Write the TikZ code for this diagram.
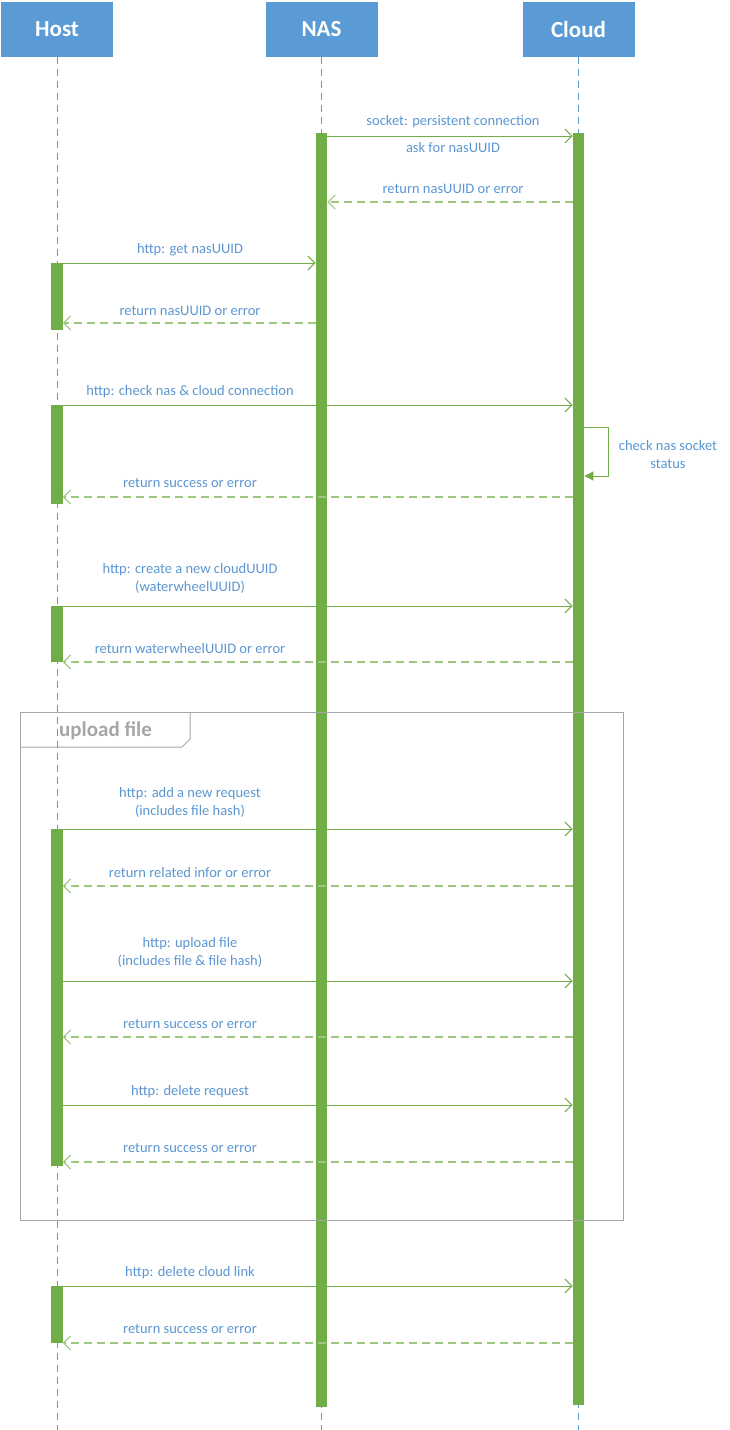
\documentclass[tikz,border=0pt]{standalone}
\usepackage{fontspec}
\setmainfont{Carlito}
\usepackage{xcolor}
\usepackage{tikz}
\usetikzlibrary{arrows.meta, positioning, calc}
\definecolor{boxblue}{HTML}{5B9BD5}
\definecolor{actgreen}{HTML}{70AD47}
\definecolor{retgreen}{HTML}{9CC77E}
\definecolor{msgblue}{HTML}{5B96D2}
\definecolor{framegray}{HTML}{A6A6A6}

\begin{document}
\begin{tikzpicture}[
  x=1pt, y=-1pt,
  head/.style={rectangle, fill=boxblue, text=white, minimum width=112pt,
               minimum height=55pt, inner sep=0pt,
               font=\fontsize{23}{26}\selectfont\bfseries},
  lifeline/.style={draw=boxblue, line width=0.6pt, dash pattern=on 7pt off 5pt},
  bar/.style={rectangle, fill=actgreen, minimum width=11.5pt, inner sep=0pt},
  call/.style={draw=actgreen, line width=1pt,
               -{Straight Barb[length=7pt, width=14pt, line width=1pt]}},
  ret/.style={draw=retgreen, line width=1.3pt, dash pattern=on 8pt off 5pt,
              -{Straight Barb[length=7pt, width=14pt, line width=1pt]}},
  self/.style={draw=actgreen, line width=1pt, -{Triangle[length=9pt, width=9pt]}},
  lbl/.style={text=msgblue, align=center, inner sep=0pt,
              font=\fontsize{14.5}{18}\selectfont},
  frame/.style={draw=framegray, line width=1pt},
  tag/.style={text=framegray, inner sep=0pt, font=\fontsize{21}{24}\selectfont\bfseries}
]
  \useasboundingbox (0,0) rectangle (729,1430);

  \node[head] (host) at (57,29.5) {Host};
  \node[head] (nas) at (321.5,29.5) {NAS};
  \node[head] (cloud) at (578.5,29.5) {Cloud};

  \coordinate (bottom) at (0,1430);
  \draw[lifeline] (host.south) -- (host.south |- bottom);
  \draw[lifeline] (nas.south) -- (nas.south |- bottom);
  \draw[lifeline] (cloud.south) -- (cloud.south |- bottom);

  \node[bar, minimum height=1274pt] (nasbar) at (321.5,770) {};
  \node[bar, minimum height=1272pt] (cloudbar) at (578.5,769) {};
  \node[bar, minimum height=67pt] (hb1) at (57,296.5) {};
  \node[bar, minimum height=99pt] (hb2) at (57,454.5) {};
  \node[bar, minimum height=56pt] (hb3) at (57,634) {};
  \node[bar, minimum height=337pt] (hb4) at (57,997.5) {};
  \node[bar, minimum height=57pt] (hb5) at (57,1314.5) {};

  % nas <-> cloud
  \coordinate (m1) at (0,136);
  \draw[call] (nasbar.east |- m1) -- (cloudbar.west |- m1);
  \node[lbl] (t1) at (453,122) {socket: persistent connection};
  \node[lbl] (t1b) at (453,148) {ask for nasUUID};
  \coordinate (m2) at (0,202);
  \draw[ret] (cloudbar.west |- m2) -- (nasbar.east |- m2);
  \node[lbl] (t2) at (453,189) {return nasUUID or error};

  % host <-> nas
  \coordinate (m3) at (0,263);
  \draw[call] (hb1.east |- m3) -- (nasbar.west |- m3);
  \node[lbl] (t3) at (190,250) {http: get nasUUID};
  \coordinate (m4) at (0,323);
  \draw[ret] (nasbar.west |- m4) -- (hb1.east |- m4);
  \node[lbl] (t4) at (190,311) {return nasUUID or error};

  % host <-> cloud
  \coordinate (m5) at (0,405);
  \draw[call] (hb2.east |- m5) -- (cloudbar.west |- m5);
  \node[lbl] (t5) at (190,392) {http: check nas \& cloud connection};
  \coordinate (s1) at (608,427);
  \coordinate (s2) at (608,476);
  \draw[self] (cloudbar.east |- s1) -- (s1) -- (s2) -- (cloudbar.east |- s2);
  \node[lbl] (t6) at (668,455) {check nas socket\\status};
  \coordinate (m7) at (0,497);
  \draw[ret] (cloudbar.west |- m7) -- (hb2.east |- m7);
  \node[lbl] (t7) at (190,483) {return success or error};

  \coordinate (m8) at (0,606);
  \draw[call] (hb3.east |- m8) -- (cloudbar.west |- m8);
  \node[lbl] (t8) at (190,578.5) {http: create a new cloudUUID\\(waterwheelUUID)};
  \coordinate (m9) at (0,662);
  \draw[ret] (cloudbar.west |- m9) -- (hb3.east |- m9);
  \node[lbl] (t9) at (190,649) {return waterwheelUUID or error};

  % upload file frame
  \draw[frame] (20,712) rectangle (623,1220);
  \draw[frame] (20,747) -- (182,747) -- (190,739) -- (190,712);
  \node[tag] (tag) at (105.5,730.5) {upload file};

  \coordinate (m10) at (0,829);
  \draw[call] (hb4.east |- m10) -- (cloudbar.west |- m10);
  \node[lbl] (t10) at (190,802) {http: add a new request\\(includes file hash)};
  \coordinate (m11) at (0,886);
  \draw[ret] (cloudbar.west |- m11) -- (hb4.east |- m11);
  \node[lbl] (t11) at (190,873) {return related infor or error};
  \coordinate (m12) at (0,981);
  \draw[call] (hb4.east |- m12) -- (cloudbar.west |- m12);
  \node[lbl] (t12) at (190,952.5) {http: upload file\\(includes file \& file hash)};
  \coordinate (m13) at (0,1037);
  \draw[ret] (cloudbar.west |- m13) -- (hb4.east |- m13);
  \node[lbl] (t13) at (190,1024) {return success or error};
  \coordinate (m14) at (0,1105);
  \draw[call] (hb4.east |- m14) -- (cloudbar.west |- m14);
  \node[lbl] (t14) at (190,1092) {http: delete request};
  \coordinate (m15) at (0,1162);
  \draw[ret] (cloudbar.west |- m15) -- (hb4.east |- m15);
  \node[lbl] (t15) at (190,1148) {return success or error};

  \coordinate (m16) at (0,1286);
  \draw[call] (hb5.east |- m16) -- (cloudbar.west |- m16);
  \node[lbl] (t16) at (190,1273) {http: delete cloud link};
  \coordinate (m17) at (0,1343);
  \draw[ret] (cloudbar.west |- m17) -- (hb5.east |- m17);
  \node[lbl] (t17) at (190,1329) {return success or error};
\end{tikzpicture}
\end{document}
